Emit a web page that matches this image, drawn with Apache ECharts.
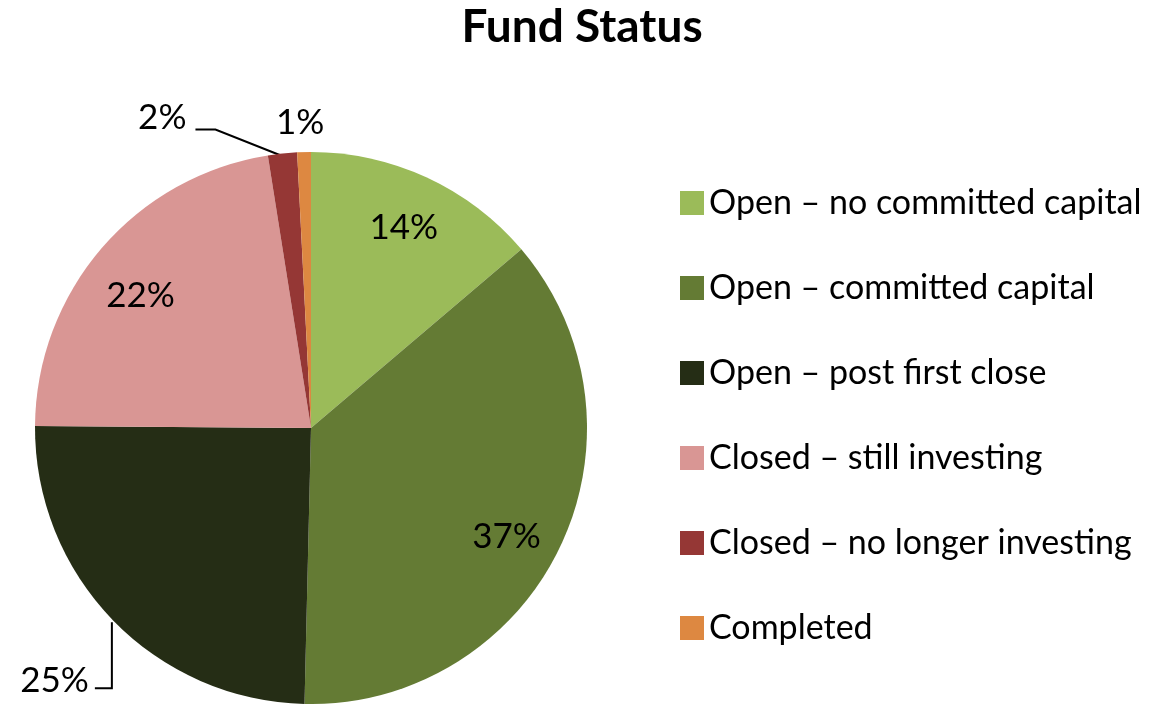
<!DOCTYPE html>
<html>
<head>
<meta charset="utf-8">
<title>Fund Status</title>
<script src="https://cdn.jsdelivr.net/npm/echarts@6/dist/echarts.min.js"></script>
<style>
  html, body { margin: 0; padding: 0; background: #fff; }
  #chart { width: 1155px; height: 704px; }
</style>
</head>
<body>
<div id="chart"></div>
<script>
// status categories and their share of funds (%)
const categories = [
  'Open – no committed capital',
  'Open – committed capital',
  'Open – post first close',
  'Closed – still investing',
  'Closed – no longer investing',
  'Completed'
];
const shares = [13.8, 36.6, 24.75, 22.4, 1.7, 0.8];
const colors = ['#9bbb59', '#647b34', '#252d15', '#d99694', '#953735', '#dd8841'];

// which slices get their label inside the pie
const insideLabel = [true, true, false, true, false, false];

var myChart = echarts.init(document.getElementById('chart'));
const font = 'Lato, "Liberation Sans", sans-serif';

const pieData = categories.map(function (name, i) {
  return {
    name: name,
    value: shares[i],
    itemStyle: { color: colors[i] },
    label: { show: !insideLabel[i] },
    labelLine: { show: !insideLabel[i], lineStyle: { opacity: i === 5 ? 0 : 1 } }
  };
});

const ringData = categories.map(function (name, i) {
  return {
    name: name,
    value: shares[i],
    label: { show: insideLabel[i] }
  };
});

function pct(p) {
  return Math.round(p.percent) + '%';
}

var option = {
  animation: false,
  title: {
    text: 'Fund Status',
    left: 577,
    top: -1,
    textAlign: 'center',
    textStyle: { fontFamily: font, fontWeight: 'bold', fontSize: 46, color: '#000' }
  },
  legend: {
    orient: 'vertical',
    left: 680,
    top: 186,
    padding: 0,
    itemWidth: 24,
    itemHeight: 24,
    itemGap: 51,
    icon: 'rect',
    data: categories,
    textStyle: { fontFamily: font, fontSize: 34, color: '#000' }
  },
  series: [
    {
      type: 'pie',
      center: [311, 428],
      radius: 276,
      startAngle: 90,
      clockwise: true,
      silent: true,
      data: pieData,
      label: {
        position: 'outside',
        formatter: pct,
        overflow: 'none',
        fontFamily: font,
        fontSize: 35,
        color: '#000'
      },
      labelLine: {
        length: 20,
        length2: 20,
        lineStyle: { color: '#000', width: 2 }
      },
      // reshape the outside leader lines the way the original draws them
      labelLayout: function (params) {
        const pts = params.labelLinePoints;
        if (!pts) return {};
        const p = pts[0];
        if (params.dataIndex === 2) {
          return {
            x: p[0] - 24, y: p[1] + 61, align: 'right', verticalAlign: 'middle',
            labelLinePoints: [[p[0] - 1, p[1] + 2], [p[0] - 1, p[1] + 68], [p[0] - 18, p[1] + 68]]
          };
        }
        if (params.dataIndex === 4) {
          return {
            x: p[0] - 96, y: p[1] - 36, align: 'right', verticalAlign: 'middle',
            labelLinePoints: [[p[0] + 1, p[1] + 3], [p[0] - 67, p[1] - 24], [p[0] - 87, p[1] - 24]]
          };
        }
        if (params.dataIndex === 5) {
          return {
            x: p[0] - 4, y: p[1] - 29, align: 'center', verticalAlign: 'middle',
            labelLinePoints: [p, p, p]
          };
        }
        return {};
      }
    },
    {
      // invisible ring used only to place the inside labels
      type: 'pie',
      center: [311, 428],
      radius: [160, 276],
      startAngle: 90,
      clockwise: true,
      silent: true,
      legendHoverLink: false,
      itemStyle: { color: 'rgba(0,0,0,0)' },
      data: ringData,
      label: {
        position: 'inside',
        formatter: pct,
        fontFamily: font,
        fontSize: 35,
        color: '#000'
      },
      labelLine: { show: false },
      labelLayout: function (params) {
        // nudge toward where the original placed them
        if (params.dataIndex === 1) return { dy: 14, dx: -4 };
        if (params.dataIndex === 3) return { dy: 12, dx: -3 };
        return {};
      }
    }
  ]
};

option && myChart.setOption(option);
</script>
</body>
</html>
